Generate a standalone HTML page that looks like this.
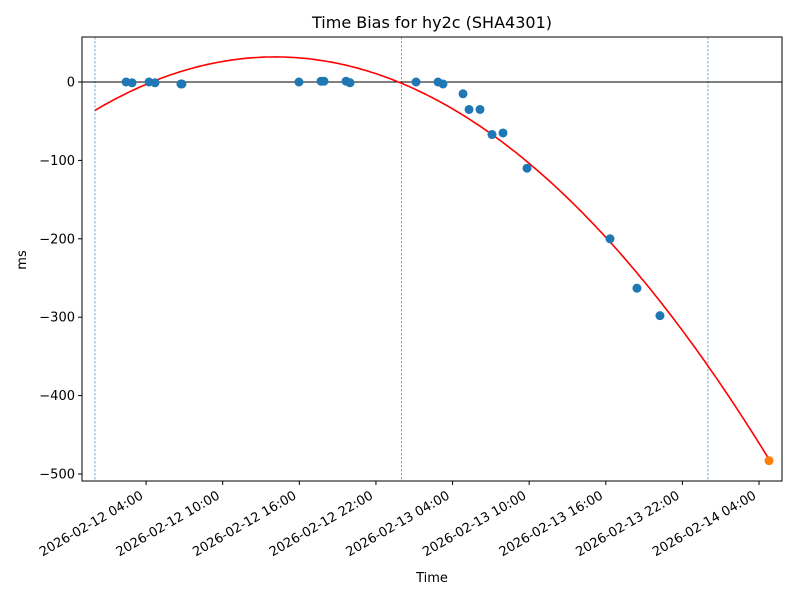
<!DOCTYPE html>
<html><head><meta charset="utf-8"><style>
body{margin:0;background:#fff;font-family:"Liberation Sans","DejaVu Sans",sans-serif}
svg text{font-family:"DejaVu Sans","Liberation Sans",sans-serif}
</style></head><body>
<svg id="chart" width="800" height="600" xmlns="http://www.w3.org/2000/svg">
<rect width="800" height="600" fill="#fff"/>
<text x="432" y="28" font-size="16" text-anchor="middle">Time Bias for hy2c (SHA4301)</text>
<text x="432" y="582" font-size="13" text-anchor="middle">Time</text>
<text x="26" y="260" font-size="13" text-anchor="middle" transform="rotate(-90 26 260)">ms</text>
<g id="g"></g>
</svg>
<script>
// hours since 2026-02-12 00:00
const obsHours=[2.43,2.90,4.23,4.70,6.73,6.81,15.97,17.70,17.93,19.66,19.97,25.14,26.86,27.25,28.82,29.29,30.15,31.09,31.95,33.83,40.33,42.44,44.24];
const obsValues=[0,-1,0,-1,-2.5,-2.5,0,1,1,1,-1,0,0,-2.5,-15,-35,-35,-67,-65,-110,-200,-263,-298];
const predHours=[52.78];
const predValues=[-483];
const fitCoef=[-0.343,14.1,32]; // a, vertex hour, vertex value
const fitRange=[0,52.78];
const yTicks=[0,-100,-200,-300,-400,-500];
const xTickHours=[4,10,16,22,28,34,40,46,52];
const xTickLabels=["2026-02-12 04:00","2026-02-12 10:00","2026-02-12 16:00","2026-02-12 22:00","2026-02-13 04:00","2026-02-13 10:00","2026-02-13 16:00","2026-02-13 22:00","2026-02-14 04:00"];
const dayLines=[0,24,48];

const L=82,R=782,T=37,B=481;
const X=h=>95+(h)*12.77;
const Y=v=>82-v*0.784;
const g=document.getElementById('g');
const NS='http://www.w3.org/2000/svg';
function mk(t,a){const e=document.createElementNS(NS,t);for(const k in a)e.setAttribute(k,a[k]);g.appendChild(e);return e;}

dayLines.forEach(h=>{const e=mk('line',{x1:X(h),x2:X(h),y1:T,y2:B,stroke:'#1f77b4','stroke-width':0.6,'stroke-dasharray':'2.5,1.5'});

});
const z=mk('line',{x1:L,x2:R,y1:Y(0),y2:Y(0),stroke:'#000','stroke-width':1});



let d='';
for(let i=0;i<=200;i++){const h=fitRange[0]+(fitRange[1]-fitRange[0])*i/200;const v=fitCoef[0]*(h-fitCoef[1])**2+fitCoef[2];d+=(i?'L':'M')+X(h).toFixed(1)+','+Y(v).toFixed(1);}
const fl=mk('path',{d:d,fill:'none',stroke:'#ff0000','stroke-width':1.6});



obsHours.forEach((h,i)=>{const c=mk('circle',{cx:X(h),cy:Y(obsValues[i]),r:4.5,fill:'#1f77b4'});

});
predHours.forEach((h,i)=>{const c=mk('circle',{cx:X(h),cy:Y(predValues[i]),r:4.5,fill:'#ff7f0e'});

});

const fr=mk('rect',{x:L,y:T,width:R-L,height:B-T,fill:'none',stroke:'#000','stroke-width':1});



yTicks.forEach(v=>{mk('line',{x1:L-4,x2:L,y1:Y(v),y2:Y(v),stroke:'#000'});
const t=mk('text',{x:L-7,y:Y(v)+4.5,'font-size':13,'text-anchor':'end'});t.textContent=v<0?'\u2212'+(-v):v;

});
xTickHours.forEach((h,i)=>{const x=X(h);mk('line',{x1:x,x2:x,y1:B,y2:B+4,stroke:'#000'});
const tx=x-2, ty=B+17;
const t=mk('text',{x:tx,y:ty,'font-size':13,'text-anchor':'end',transform:`rotate(-30 ${tx} ${ty})`});t.textContent=xTickLabels[i];

});
</script>
</body></html>
